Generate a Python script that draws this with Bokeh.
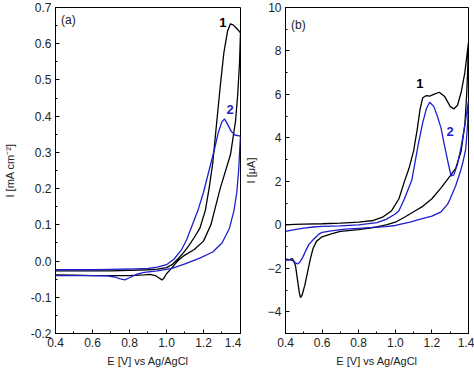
from bokeh.plotting import figure
from bokeh.layouts import row
from bokeh.models import SingleIntervalTicker, CustomJSTickFormatter, Label
from bokeh.embed import file_html
from bokeh.resources import INLINE

# ---------------- data: panel (a) ----------------
a1_E = [0.40, 0.50, 0.60, 0.70, 0.80, 0.90, 0.95, 1.00, 1.03, 1.06, 1.09, 1.12, 1.15, 1.18, 1.21, 1.23,
        1.25, 1.266, 1.29, 1.31, 1.33, 1.346, 1.36, 1.38, 1.40,
        1.395, 1.385, 1.373, 1.346, 1.29, 1.24, 1.20, 1.15, 1.095, 1.06, 1.03, 1.00, 0.985, 0.975,
        0.96, 0.94, 0.91, 0.88, 0.80, 0.70, 0.60, 0.50, 0.40]
a1_I = [-0.027, -0.027, -0.027, -0.027, -0.026, -0.024, -0.022, -0.018, -0.010, 0.005, 0.022, 0.042, 0.065, 0.09, 0.14, 0.20,
        0.27, 0.355, 0.48, 0.575, 0.635, 0.655, 0.652, 0.642, 0.63,
        0.55, 0.46, 0.386, 0.294, 0.20, 0.10, 0.055, 0.032, 0.015, 0.0, -0.018, -0.035, -0.048, -0.052,
        -0.047, -0.040, -0.037, -0.038, -0.040, -0.040, -0.040, -0.039, -0.038]

a2_E = [0.40, 0.50, 0.60, 0.70, 0.80, 0.90, 0.95, 1.00, 1.04, 1.08, 1.11, 1.14, 1.17, 1.20, 1.23, 1.26,
        1.28, 1.30, 1.314, 1.33, 1.35, 1.37, 1.40,
        1.395, 1.39, 1.38, 1.365, 1.34, 1.30, 1.25, 1.18, 1.10, 1.03, 0.95, 0.88, 0.84, 0.80, 0.775,
        0.75, 0.72, 0.68, 0.60, 0.50, 0.40]
a2_I = [-0.024, -0.024, -0.024, -0.023, -0.022, -0.020, -0.017, -0.010, 0.005, 0.03, 0.06, 0.10, 0.14, 0.19, 0.25, 0.31,
        0.355, 0.385, 0.392, 0.378, 0.358, 0.348, 0.345,
        0.30, 0.25, 0.19, 0.14, 0.09, 0.05, 0.025, 0.008, -0.008, -0.020, -0.027, -0.031, -0.036, -0.046, -0.052,
        -0.049, -0.044, -0.041, -0.040, -0.040, -0.040]

# ---------------- data: panel (b) ----------------
b1_E = [0.40, 0.45, 0.50, 0.60, 0.70, 0.80, 0.88, 0.93, 0.98, 1.02, 1.05, 1.075, 1.10, 1.12, 1.135, 1.15,
        1.17, 1.188, 1.21, 1.24, 1.27, 1.30, 1.32, 1.34, 1.36, 1.38, 1.40,
        1.395, 1.39, 1.38, 1.36, 1.33, 1.30, 1.25, 1.20, 1.15, 1.10, 1.05, 1.00, 0.95, 0.90, 0.80, 0.70,
        0.65, 0.60, 0.57, 0.55, 0.535, 0.52, 0.505, 0.49, 0.482, 0.475, 0.465, 0.455, 0.445, 0.435,
        0.425, 0.41, 0.40]
b1_I = [0.0, 0.02, 0.03, 0.05, 0.08, 0.12, 0.2, 0.35, 0.65, 1.2, 2.0, 2.6, 3.4, 4.4, 5.3, 5.85,
        5.95, 5.92, 6.0, 6.1, 5.9, 5.45, 5.33, 5.5, 6.1, 7.0, 8.4,
        7.0, 6.0, 4.6, 3.4, 2.6, 2.25, 1.7, 1.2, 0.85, 0.6, 0.35, 0.12, 0.0, -0.1, -0.22, -0.3,
        -0.42, -0.55, -0.75, -1.1, -1.6, -2.2, -2.8, -3.25, -3.35, -3.1, -2.5, -1.9, -1.65, -1.55,
        -1.6, -1.62, -1.6]

b2_E = [0.40, 0.45, 0.50, 0.55, 0.60, 0.70, 0.80, 0.90, 0.95, 1.00, 1.02, 1.05, 1.09, 1.126, 1.15, 1.17,
        1.188, 1.21, 1.23, 1.25, 1.27, 1.29, 1.305, 1.32, 1.34, 1.36, 1.38, 1.40,
        1.395, 1.385, 1.37, 1.357, 1.33, 1.30, 1.286, 1.25, 1.20, 1.143, 1.08, 1.00, 0.95, 0.876, 0.80,
        0.725, 0.65, 0.60, 0.582, 0.555, 0.528, 0.51, 0.493, 0.478, 0.466, 0.455, 0.44, 0.42, 0.40]
b2_I = [-0.3, -0.22, -0.15, -0.1, -0.07, -0.05, 0.0, 0.1, 0.25, 0.5, 0.65, 1.2, 2.05, 3.72, 4.7, 5.35,
        5.64, 5.45, 5.0, 4.45, 3.6, 2.8, 2.25, 2.3, 2.8, 3.6, 4.6, 5.7,
        4.6, 3.5, 2.9, 2.49, 1.8, 1.2, 0.95, 0.6, 0.4, 0.27, 0.12, -0.03, -0.08, -0.12, -0.16,
        -0.2, -0.28, -0.35, -0.43, -0.65, -0.9, -1.2, -1.52, -1.72, -1.8, -1.75, -1.65, -1.6, -1.57]

BLACK = "#000000"
BLUE = "#1e1ecc"
FONT = "Liberation Sans"
EPS = 1e-6


def style(p, ylabel, yint, ymin_ticks, ylabel_standoff, yfmt=None):
    p.xgrid.visible = False
    p.ygrid.visible = False
    p.outline_line_color = "black"
    p.outline_line_width = 1
    p.outline_line_alpha = 1
    p.xaxis.ticker = SingleIntervalTicker(interval=0.2, num_minor_ticks=2)
    p.yaxis.ticker = SingleIntervalTicker(interval=yint, num_minor_ticks=ymin_ticks)
    p.xaxis.formatter = CustomJSTickFormatter(code="return tick.toFixed(1);")
    if yfmt is not None:
        p.yaxis.formatter = CustomJSTickFormatter(code=yfmt)
    for ax in (p.xaxis[0], p.yaxis[0]):
        ax.axis_line_color = "black"
        ax.major_tick_in = 4
        ax.major_tick_out = 0
        ax.minor_tick_in = 2
        ax.minor_tick_out = 0
        ax.major_tick_line_color = "black"
        ax.minor_tick_line_color = "black"
        ax.major_label_text_font = FONT
        ax.major_label_text_font_size = "12px"
        ax.major_label_text_color = "#222222"
        ax.axis_label_text_font = FONT
        ax.axis_label_text_font_size = "11px"
        ax.axis_label_text_font_style = "normal"
        ax.axis_label_text_color = "#222222"
        ax.major_label_standoff = 4
    p.xaxis.axis_label_standoff = 5
    p.yaxis.axis_label_standoff = ylabel_standoff
    p.xaxis.axis_label = "E [V] vs Ag/AgCl"
    p.yaxis.axis_label = ylabel


pa = figure(width=241, height=369, x_range=(0.4, 1.4 + EPS), y_range=(-0.2, 0.7 + EPS),
            output_backend="svg", toolbar_location=None,
            min_border_left=54, min_border_right=1, min_border_top=7, min_border_bottom=36)
style(pa, "I [mA cm\u207b\u00b2]", 0.1, 2, 12,
      "return Math.abs(tick) < 1e-9 ? '0.0' : tick.toFixed(1);")
pa.line(a1_E, a1_I, line_color=BLACK, line_width=1.3)
pa.line(a2_E, a2_I, line_color=BLUE, line_width=1.3)
pa.add_layout(Label(x=0.43, y=0.645, text="(a)", text_font=FONT, text_font_size="12px",
                    text_color="#222222"))
pa.add_layout(Label(x=1.285, y=0.645, text="1", text_font=FONT, text_font_size="13px",
                    text_font_style="bold", text_color=BLACK))
pa.add_layout(Label(x=1.325, y=0.405, text="2", text_font=FONT, text_font_size="13px",
                    text_font_style="bold", text_color=BLUE))

pb = figure(width=233, height=369, x_range=(0.4, 1.4 + EPS), y_range=(-5, 10 + EPS),
            output_backend="svg", toolbar_location=None,
            min_border_left=40, min_border_right=6, min_border_top=7, min_border_bottom=36)
style(pb, "I [\u03bcA]", 2, 2, 8)
pb.line(b1_E, b1_I, line_color=BLACK, line_width=1.3)
pb.line(b2_E, b2_I, line_color=BLUE, line_width=1.3)
pb.add_layout(Label(x=0.43, y=8.85, text="(b)", text_font=FONT, text_font_size="12px",
                    text_color="#222222"))
pb.add_layout(Label(x=1.115, y=6.3, text="1", text_font=FONT, text_font_size="13px",
                    text_font_style="bold", text_color=BLACK))
pb.add_layout(Label(x=1.28, y=4.1, text="2", text_font=FONT, text_font_size="13px",
                    text_font_style="bold", text_color=BLUE))

layout = row(pa, pb)
open("out.html", "w").write(file_html(layout, INLINE))
